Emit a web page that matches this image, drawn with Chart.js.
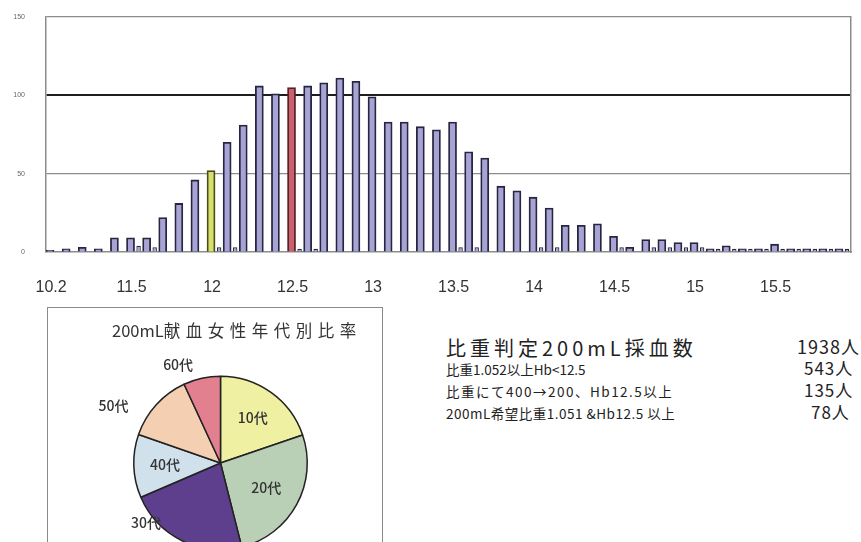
<!DOCTYPE html>
<html><head><meta charset="utf-8">
<script src="https://cdn.jsdelivr.net/npm/chart.js@4/dist/chart.umd.min.js"></script>
<style>
html,body{margin:0;padding:0;background:#fff;}
body{width:861px;height:542px;overflow:hidden;position:relative;font-family:"Noto Sans CJK JP","Noto Sans",sans-serif;color:#222;}
#barWrap{position:absolute;left:0;top:0;width:861px;height:300px;}
#pieBox{position:absolute;left:47px;top:307px;width:334px;height:260px;border:1.5px solid #8a8a8a;}
#pieWrap{position:absolute;left:47px;top:307px;width:336px;height:320px;}
#pieTitle{position:absolute;left:112px;top:318px;white-space:nowrap;font-size:16.5px;color:#333;}
#pieTitle span{letter-spacing:5.5px;}
.t{position:absolute;white-space:nowrap;color:#222;}
</style></head>
<body>
<div id="barWrap"><canvas id="bar"></canvas></div>
<div id="pieBox"></div>
<div id="pieWrap"><canvas id="pie"></canvas></div>
<div id="pieTitle">200mL<span>献血女性年代別比率</span></div>
<div class="t" style="left:446px;top:333px;font-size:20px;letter-spacing:4px;">比重判定200mL採血数</div>
<div class="t" style="left:797px;top:333px;font-size:18px;letter-spacing:1px;">1938人</div>
<div class="t" style="left:446px;top:359px;font-size:13.5px;">比重1.052以上Hb&lt;12.5</div>
<div class="t" style="left:804px;top:355px;font-size:17px;letter-spacing:1px;">543人</div>
<div class="t" style="left:446px;top:381px;font-size:13.5px;letter-spacing:1.5px;">比重にて400→200、Hb12.5以上</div>
<div class="t" style="left:804px;top:377px;font-size:17px;letter-spacing:1px;">135人</div>
<div class="t" style="left:446px;top:403px;font-size:13.5px;letter-spacing:0.5px;">200mL希望比重1.051 &amp;Hb12.5 以上</div>
<div class="t" style="left:811px;top:399px;font-size:17px;letter-spacing:1px;">78人</div>
<script>
// ---- data ----
const categories = ["10.2","11.1","11.2","11.3","11.4","11.5","11.6","11.7","11.8","11.9",
  "12","12.1","12.2","12.3","12.4","12.5","12.6","12.7","12.8","12.9",
  "13","13.1","13.2","13.3","13.4","13.5","13.6","13.7","13.8","13.9",
  "14","14.1","14.2","14.3","14.4","14.5","14.6","14.7","14.8","14.9",
  "15","15.1","15.2","15.3","15.4","15.5","15.6","15.7","15.8","15.9"];
const tickLabels = ["10.2","11.5","12","12.5","13","13.5","14","14.5","15","15.5"];
const mainCounts = [1,2,3,2,9, 9,9,22,31,46, 52,70,81,106,101, 105,106,108,111,109,
  99,83,83,80,78, 83,64,60,42,39, 35,28,17,17,18, 10,3,8,8,6, 6,2,4,2,2, 5,2,2,2,2];
const smallCounts = [null,null,null,null,null, 4,3,null,null,null, 3,3,null,null,null, 2,2,null,null,null,
  null,null,null,null,null, 3,3,null,null,null, 3,3,null,null,null, 3,null,3,3,3,
  3,2,2,2,2, 2,2,2,2,2];
const yTicks = [0,50,100,150];
const highlightYellow = "12";
const highlightRed = "12.5";

const ageLabels = ["10代","20代","30代","40代","50代","60代"];
const ageShares = [19.8,26.3,22.5,11.8,12.8,6.9];

// ---- styles ----
const barFill = "#a7a3d5", barEdge = "#27263f";
const fills = categories.map(c => c===highlightYellow ? "#d6de6e" : c===highlightRed ? "#c8606e" : barFill);
const edges = categories.map(c => c===highlightYellow ? "#4a4a1a" : c===highlightRed ? "#5a2026" : barEdge);
const pieColors = ["#eff0a2","#b9d0b6","#5d3f8d","#d0e1ec","#f4cfb2","#e2808f"];
const pieLabelPos = {rf:[0.64,0.6,1.1,0.64,1.4,1.23], dA:[0,0,25,0,-14,-11]};

new Chart(document.getElementById("bar"), {
  type: "bar",
  data: { labels: categories, datasets: [
    { data: mainCounts, backgroundColor: fills, borderColor: edges, borderWidth: 1.8,
      barPercentage: 1.0, categoryPercentage: 1.0, borderSkipped: "bottom" },
    { data: smallCounts, backgroundColor: barFill, borderColor: barEdge, borderWidth: 1.2,
      barPercentage: 0.55, categoryPercentage: 1.0 }
  ]},
  options: {
    responsive: true, maintainAspectRatio: false, animation: false,
    layout: { padding: { top: 17, left: 0, right: 0, bottom: 0 } },
    plugins: { legend: { display: false }, tooltip: { enabled: false } },
    scales: {
      x: {
        grid: { display: false },
        border: { display: true, color: "#8c8c8c", width: 1.5 },
        ticks: { autoSkip: false, maxRotation: 0, padding: 18, labelOffset: -3,
          color: "#333", font: { family: "'Liberation Sans',sans-serif", size: 16 },
          callback: function(v, i){ const l = categories[i]; return tickLabels.includes(l) ? l : ""; } },
        afterFit: s => { s.height = 48; }
      },
      y: {
        min: 0, max: 150,
        afterBuildTicks: s => { s.ticks = yTicks.map(v => ({value: v})); },
        grid: { drawTicks: false,
          color: c => c.tick.value === 100 ? "#1e1e1e" : c.tick.value === 0 ? "rgba(0,0,0,0)" : "#8c8c8c",
          lineWidth: c => c.tick.value === 100 ? 2 : 1.2 },
        border: { display: true, color: "#8c8c8c", width: 1.5 },
        ticks: { padding: 21, color: "#666", font: { family: "'Liberation Sans',sans-serif", size: 7 } },
        afterFit: s => { s.width = 46; s.paddingTop = 0; s.paddingBottom = 0; }
      },
      y2: {
        position: "right", min: 0, max: 150,
        grid: { drawOnChartArea: false, drawTicks: false },
        border: { display: true, color: "#8c8c8c", width: 1.5 },
        ticks: { display: false },
        afterFit: s => { s.width = 2; s.paddingTop = 0; s.paddingBottom = 0; }
      }
    }
  }
});

const pieLabelPlugin = {
  id: "pieLabels",
  afterDatasetsDraw(chart) {
    const ctx = chart.ctx;
    const meta = chart.getDatasetMeta(0);
    ctx.save();
    ctx.font = "500 14px 'Noto Sans CJK JP', sans-serif";
    ctx.fillStyle = "#333";
    ctx.textAlign = "center";
    ctx.textBaseline = "middle";
    meta.data.forEach((arc, i) => {
      const p = arc.getProps(["x","y","startAngle","endAngle","outerRadius"], true);
      const a = (p.startAngle + p.endAngle) / 2 + pieLabelPos.dA[i] * Math.PI / 180;
      const r = p.outerRadius * pieLabelPos.rf[i];
      ctx.fillText(chart.data.labels[i], p.x + Math.cos(a) * r, p.y + Math.sin(a) * r);
    });
    ctx.restore();
  }
};

new Chart(document.getElementById("pie"), {
  type: "pie",
  data: { labels: ageLabels, datasets: [{ data: ageShares, backgroundColor: pieColors,
    borderColor: "#222", borderWidth: 1.5 }] },
  options: {
    responsive: true, maintainAspectRatio: false, animation: false,
    layout: { padding: { left: 86, right: 75, top: 68, bottom: 76 } },
    plugins: { legend: { display: false }, tooltip: { enabled: false } }
  },
  plugins: [pieLabelPlugin]
});
</script>
</body></html>
